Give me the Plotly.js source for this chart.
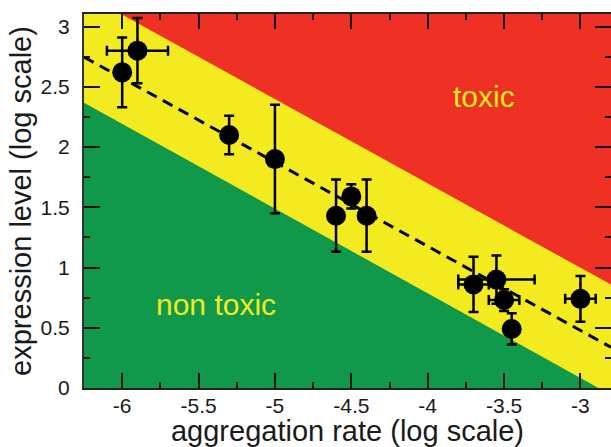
<!DOCTYPE html>
<html>
<head>
<meta charset="utf-8">
<script src="https://cdn.plot.ly/plotly-3.0.1.min.js"></script>
<style>html,body{margin:0;padding:0;background:#fff;}#chart{width:611px;height:447px;}</style>
</head>
<body>
<div id="chart"></div>
<script>
// Data points (log aggregation rate, log expression level)
const aggRate   = [-6.0, -5.9, -5.3, -5.0, -4.6, -4.5, -4.4, -3.7, -3.55, -3.5, -3.45, -3.0];
const exprLevel = [2.62, 2.80, 2.10, 1.90, 1.43, 1.59, 1.43, 0.86, 0.90, 0.73, 0.49, 0.74];
const errY      = [0.29, 0.27, 0.16, 0.45, 0.30, 0.10, 0.30, 0.23, 0.20, 0.09, 0.13, 0.19];
const errX      = [0.00, 0.20, 0.00, 0.00, 0.00, 0.00, 0.00, 0.10, 0.25, 0.10, 0.00, 0.10];

// Fitted dashed line
const fitX = [-6.25, -2.80];
const fitY = [2.747, 0.338];

// Region boundaries (green = non toxic, red = toxic; yellow in between)
const greenX = [-6.5, -6.5, -2.74];
const greenY = [-0.1, 2.544, -0.1];
const redX   = [-6.288, -2.6, -2.6];
const redY   = [3.3, 0.718, 3.3];

const xTicks = [-6, -5.5, -5, -4.5, -4, -3.5, -3];
const xTickText = ['-6', '-5.5', '-5', '-4.5', '-4', '-3.5', '-3'];
const yTicks = [0, 0.5, 1, 1.5, 2, 2.5, 3];
const yTickText = ['0', '0.5', '1', '1.5', '2', '2.5', '3'];

const RED = '#ee3124', YELLOW = '#f3ea1f', GREEN = '#10994a';
const FONT = 'Liberation Sans, Arial, Helvetica, sans-serif';

const traces = [
  {x: greenX, y: greenY, type: 'scatter', mode: 'lines', fill: 'toself',
   fillcolor: GREEN, line: {width: 0, color: GREEN}, hoverinfo: 'skip', showlegend: false},
  {x: redX, y: redY, type: 'scatter', mode: 'lines', fill: 'toself',
   fillcolor: RED, line: {width: 0, color: RED}, hoverinfo: 'skip', showlegend: false},
  {x: fitX, y: fitY, type: 'scatter', mode: 'lines',
   line: {color: '#000', width: 3, dash: '11px,7px'}, showlegend: false},
  {x: aggRate, y: exprLevel, type: 'scatter', mode: 'markers',
   marker: {size: 20, color: '#000'},
   error_y: {type: 'data', array: errY, visible: true, color: '#000', thickness: 2.5, width: 5},
   error_x: {type: 'data', array: errX, visible: true, color: '#000', thickness: 2.5, width: 5},
   showlegend: false}
];

const layout = {
  width: 611, height: 447,
  margin: {l: 84, r: 0, t: 14, b: 59},
  paper_bgcolor: '#ffffff',
  plot_bgcolor: YELLOW,
  showlegend: false,
  font: {family: FONT, color: '#1a1a1a'},
  xaxis: {
    range: [-6.25, -2.80], tickvals: xTicks, ticktext: xTickText,
    ticks: 'inside', ticklen: 15, tickwidth: 2, tickcolor: '#111',
    minor: {dtick: 0.25, ticks: 'inside', ticklen: 6, tickwidth: 2, tickcolor: '#111', showgrid: false},
    showline: true, linecolor: '#222', linewidth: 2, mirror: 'allticks',
    showgrid: false, zeroline: false,
    tickfont: {size: 21, family: FONT, color: '#1a1a1a'},
    ticklabelstandoff: -2,
    title: {text: 'aggregation rate (log scale)', font: {size: 29, family: FONT, color: '#1a1a1a'}, standoff: 10}
  },
  yaxis: {
    range: [0, 3.104], tickvals: yTicks, ticktext: yTickText,
    ticks: 'inside', ticklen: 16, tickwidth: 2, tickcolor: '#111',
    minor: {dtick: 0.25, ticks: 'inside', ticklen: 6, tickwidth: 2, tickcolor: '#111', showgrid: false},
    showline: true, linecolor: '#333', linewidth: 2, mirror: 'allticks',
    showgrid: false, zeroline: false,
    tickfont: {size: 21, family: FONT, color: '#1a1a1a'},
    ticklabelstandoff: 8,
    title: {text: 'expression level (log scale)', font: {size: 29, family: FONT, color: '#1a1a1a'}, standoff: 0}
  },
  annotations: [
    {x: -3.634, y: 2.42, xref: 'x', yref: 'y', text: 'toxic', showarrow: false,
     font: {size: 30, family: FONT, color: YELLOW}},
    {x: -5.387, y: 0.69, xref: 'x', yref: 'y', text: 'non toxic', showarrow: false,
     font: {size: 30, family: FONT, color: YELLOW}}
  ]
};

Plotly.newPlot('chart', traces, layout, {displayModeBar: false, staticPlot: true});
</script>
</body>
</html>
